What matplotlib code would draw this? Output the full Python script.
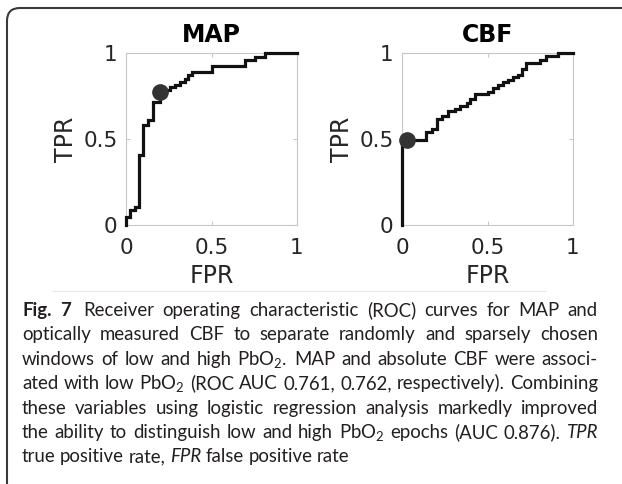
import matplotlib
matplotlib.use("Agg")
import matplotlib.pyplot as plt
from matplotlib.patches import FancyBboxPatch
from matplotlib.lines import Line2D
from matplotlib.transforms import IdentityTransform

# ROC curves (corner points, drawn as steps)
map_fpr = [0, 0, 0.023, 0.053, 0.078, 0.101, 0.130, 0.160, 0.199, 0.225, 0.255,
           0.285, 0.315, 0.345, 0.365, 0.385, 0.505, 0.696, 0.754, 0.813, 1.0]
map_tpr = [0, 0.045, 0.087, 0.107, 0.407, 0.581, 0.610, 0.717, 0.770, 0.785, 0.800,
           0.815, 0.830, 0.850, 0.870, 0.890, 0.926, 0.959, 0.978, 1.0, 1.0]
map_point = [0.199, 0.772]

cbf_fpr = [0, 0, 0.140, 0.173, 0.202, 0.232, 0.271, 0.309, 0.339, 0.378, 0.397, 0.426,
           0.504, 0.533, 0.562, 0.591, 0.621, 0.650, 0.679, 0.699, 0.728, 0.806, 0.845,
           0.912, 1.0]
cbf_tpr = [0, 0.494, 0.543, 0.557, 0.615, 0.631, 0.660, 0.674, 0.689, 0.709, 0.732, 0.760,
           0.776, 0.796, 0.815, 0.831, 0.845, 0.858, 0.874, 0.909, 0.942, 0.961, 0.980,
           1.0, 1.0]
cbf_point = [0.03, 0.494]

titles = ["MAP", "CBF"]
ticks = [0, 0.5, 1]
tick_labels = ["0", "0.5", "1"]

# caption, '#' = bold word, '_' = italic word, double space = wider gap
caption = [
    "#Fig. #7  Receiver operating characteristic (ROC) curves for MAP and",
    "optically measured CBF to separate randomly and sparsely chosen",
    "windows of low and high PbO$_2$. MAP and absolute CBF were associ-",
    "ated with low PbO$_2$ (ROC AUC 0.761, 0.762, respectively). Combining",
    "these variables using logistic regression analysis markedly improved",
    "the ability to distinguish low and high PbO$_2$ epochs (AUC 0.876). _TPR",
    "true positive rate, _FPR false positive rate",
]

W, H = 622, 484
plt.rcParams["mathtext.default"] = "regular"
fig = plt.figure(figsize=(W / 100, H / 100), dpi=100)
px = IdentityTransform()

# outer frame (open to the right and bottom like the crop)
frame = FancyBboxPatch((7, -40), 700, H - 8 + 40, boxstyle="round,pad=0,rounding_size=13",
                       transform=px, fill=False, ec="#3a3a3a", lw=1.5)
fig.add_artist(frame)
fig.add_artist(Line2D([52, 546], [H - 291, H - 291], transform=px, color="#e8e8e8", lw=0.8))

panels = [(126, map_fpr, map_tpr, map_point), (402, cbf_fpr, cbf_tpr, cbf_point)]
for (left, fpr, tpr, pt), title in zip(panels, titles):
    ax = fig.add_axes([left / W, 1 - 225 / H, 171 / W, 172 / H])
    ax.plot(fpr, tpr, drawstyle="steps-post", color="#111111", lw=2.3, clip_on=False,
            solid_joinstyle="miter", zorder=3)
    ax.plot(pt[0], pt[1], "o", ms=11, color="#333333", clip_on=False, zorder=4)
    ax.set_xlim(0, 1)
    ax.set_ylim(0, 1)
    ax.set_xticks(ticks, tick_labels)
    ax.set_yticks(ticks, tick_labels)
    ax.tick_params(direction="in", length=3, width=0.8, color="#c8c8c8", labelsize=15.5,
                   labelcolor="#262626", top=True, right=True, pad=6)
    ax.tick_params(axis="x", pad=9)
    for s in ax.spines.values():
        s.set_color("#c8c8c8")
        s.set_linewidth(0.8)
    ax.set_title(title, fontsize=17, fontweight="bold", pad=8)
    ax.set_xlabel("FPR", fontsize=17, color="#262626", labelpad=5)
    ax.set_ylabel("TPR", fontsize=17, color="#262626", labelpad=4)

# caption: fit font to the line width, then justify the full lines
renderer = fig.canvas.get_renderer()
cap_left, cap_right = 22, 598
base0, step = 316, 24.4


def make_word(word, size):
    kw = dict(family="Lato", fontsize=size, color="#231f20", transform=px, va="baseline")
    if word.startswith("#"):
        word, kw["fontweight"] = word[1:], "bold"
    elif word.startswith("_"):
        word, kw["fontstyle"] = word[1:], "italic"
    return fig.text(0, 0, word, **kw)


def layout(size, draw=True):
    widest = 0
    for i, line in enumerate(caption):
        parts = line.split(" ")
        words, extra = [], []
        for p in parts:
            if p == "":
                extra[-1] += 1
            else:
                words.append(make_word(p, size))
                extra.append(0)
        ws = [w.get_window_extent(renderer).width for w in words]
        space = size * 100 / 72 * 0.24
        natural = sum(ws) + space * (len(ws) - 1 + sum(extra))
        widest = max(widest, natural)
        if i < len(caption) - 1:
            gap = (cap_right - cap_left - sum(ws) - space * sum(extra)) / (len(ws) - 1)
        else:
            gap = space
        x = cap_left
        y = H - (base0 + i * step)
        for w, wd, ex in zip(words, ws, extra):
            if draw:
                w.set_position((x, y))
            else:
                w.remove()
            x += wd + gap + ex * space
    return widest


w10 = layout(10, draw=False)
layout(10 * (cap_right - cap_left - 6) / w10)

fig.savefig("out.png", dpi=100)
